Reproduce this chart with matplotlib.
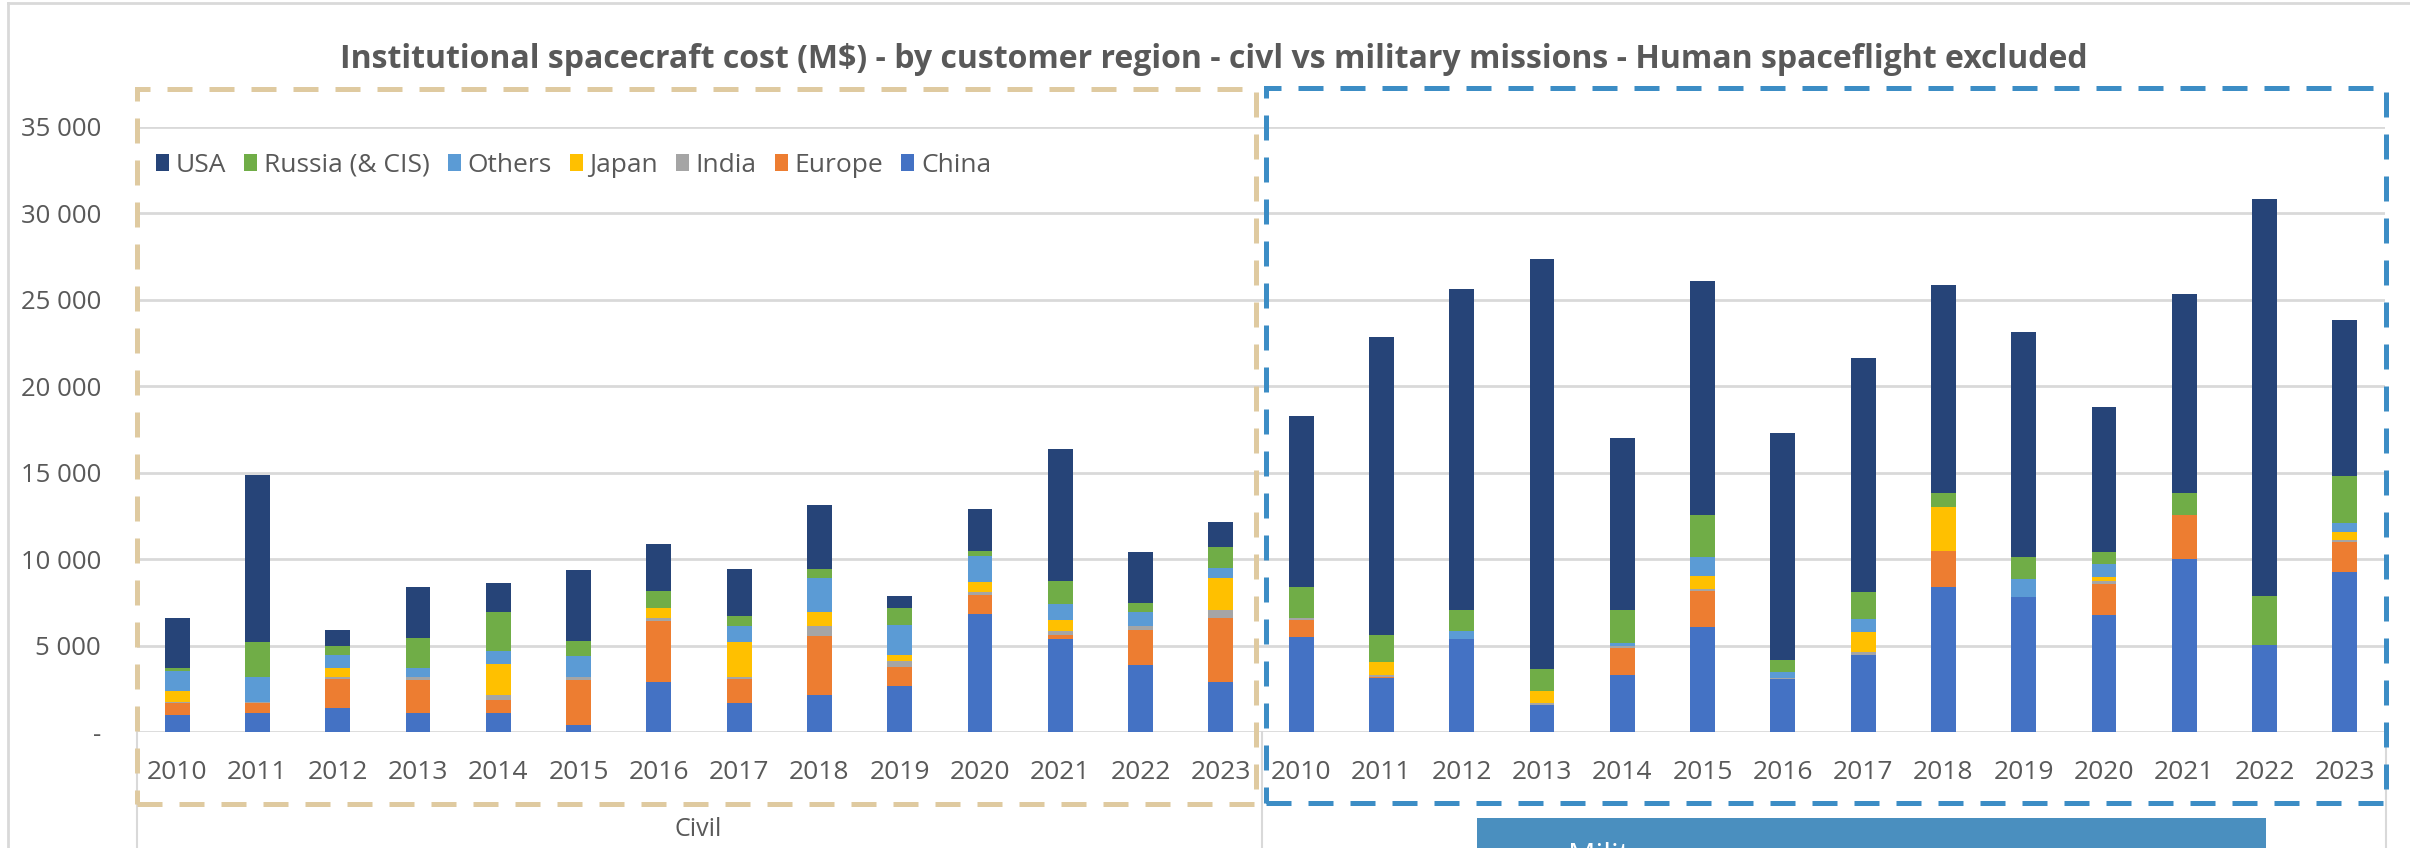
import matplotlib
matplotlib.use("Agg")
from matplotlib import pyplot as plt
from matplotlib.patches import Patch, Rectangle
from matplotlib.lines import Line2D
from matplotlib.ticker import FuncFormatter

plt.rcParams['font.family'] = ['Open Sans', 'DejaVu Sans']

years = [str(y) for y in range(2010, 2024)]
groups = ["Civil", "Military"]

# civil missions, M$ (bottom to top of each bar)
civ_china  = [970, 1100, 1360, 1110, 1110, 390, 2910, 1690, 2140, 2660, 6850, 5380, 3880, 2910]
civ_europe = [680, 550, 1690, 1900, 730, 2620, 3500, 1360, 3430, 1090, 1050, 250, 2040, 3690]
civ_india  = [60, 100, 120, 190, 300, 160, 190, 150, 550, 370, 200, 200, 200, 430]
civ_japan  = [690, 0, 520, 0, 1800, 0, 580, 1980, 830, 350, 580, 640, 0, 1900]
civ_others = [1150, 1450, 780, 530, 720, 1240, 0, 940, 1980, 1740, 1510, 910, 810, 530]
civ_russia = [140, 1980, 480, 1710, 2290, 830, 980, 580, 490, 970, 300, 1360, 550, 1220]
civ_usa    = [2930, 9710, 970, 2970, 1690, 4140, 2710, 2720, 3690, 680, 2420, 7630, 2910, 1460]

# military missions, M$
mil_china  = [5500, 3100, 5370, 1590, 3290, 6050, 3040, 4460, 8370, 7790, 6780, 10020, 5040, 9250]
mil_europe = [1000, 100, 0, 0, 1590, 2090, 0, 0, 2130, 0, 1790, 2520, 0, 1740]
mil_india  = [100, 90, 0, 100, 100, 140, 100, 190, 0, 0, 190, 0, 0, 100]
mil_japan  = [0, 760, 0, 680, 0, 770, 0, 1160, 2520, 0, 190, 0, 0, 480]
mil_others = [0, 0, 480, 0, 190, 1070, 350, 720, 0, 1070, 780, 0, 0, 520]
mil_russia = [1780, 1570, 1200, 1260, 1880, 2420, 660, 1550, 810, 1260, 680, 1290, 2850, 2720]
mil_usa    = [9920, 17210, 18550, 23710, 9980, 13540, 13140, 13550, 12020, 13000, 8390, 11520, 22940, 9050]

series = [
    ("China", civ_china, mil_china, "#4472C4"),
    ("Europe", civ_europe, mil_europe, "#ED7D31"),
    ("India", civ_india, mil_india, "#A5A5A5"),
    ("Japan", civ_japan, mil_japan, "#FFC000"),
    ("Others", civ_others, mil_others, "#5B9BD5"),
    ("Russia (& CIS)", civ_russia, mil_russia, "#70AD47"),
    ("USA", civ_usa, mil_usa, "#264478"),
]

W, H = 2410, 848
fig = plt.figure(figsize=(W / 100, H / 100), dpi=100)
ax = fig.add_axes([137 / W, (H - 732) / H, (2385 - 137) / W, (732 - 127) / H])

x = list(range(2 * len(years)))
bottom = [0] * len(x)
handles = []
for name, civ, mil, color in series:
    vals = civ + mil
    ax.bar(x, vals, 0.31, bottom=bottom, color=color, zorder=3)
    bottom = [b + v for b, v in zip(bottom, vals)]
    handles.append(Patch(facecolor=color, label=name))

ax.set_xlim(-0.5, len(x) - 0.5)
ax.set_ylim(0, 35000)
ax.set_yticks(range(0, 35001, 5000))
ax.yaxis.set_major_formatter(FuncFormatter(lambda v, p: "-" if v == 0 else "{:,.0f}".format(v).replace(",", " ")))
ax.grid(axis='y', color="#D9D9D9", linewidth=2, zorder=0)
ax.set_xticks(x)
ax.set_xticklabels(years + years)
ax.tick_params(axis='both', length=0, labelcolor="#595959")
ax.tick_params(axis='x', pad=20, labelsize=19)
ax.tick_params(axis='y', pad=26, labelsize=18.5)
for s in ax.spines.values():
    s.set_visible(False)

# legend, reversed order like the original
leg = ax.legend(handles=handles[::-1], loc='center left', bbox_to_anchor=(156 / W, 1 - 165 / H),
                bbox_transform=fig.transFigure, ncol=7, frameon=False, fontsize=19,
                handlelength=0.5, handleheight=0.6, handletextpad=0.25, columnspacing=0.68,
                borderaxespad=0, borderpad=0)
for t in leg.get_texts():
    t.set_color("#595959")

fig.text(1214 / W, 1 - 60 / H,
         "Institutional spacecraft cost (M$) - by customer region - civl vs military missions - Human spaceflight excluded",
         ha='center', va='center', fontsize=23, fontweight='bold', color="#595959")

# category group labels and separators
fig.text(698 / W, 1 - 830 / H, groups[0], ha='center', va='center', fontsize=18, color="#595959")
for px in [137, 1262, 2386]:
    fig.add_artist(Line2D([px / W, px / W], [0, (H - 732) / H], color="#D9D9D9", linewidth=1.5))

# outer chart border
fig.add_artist(Line2D([8 / W, 8 / W], [0, 1 - 3 / H], color="#D9D9D9", linewidth=2))
fig.add_artist(Line2D([8 / W, 1], [1 - 3 / H, 1 - 3 / H], color="#D9D9D9", linewidth=2))

# dashed highlight boxes
fig.add_artist(Rectangle((137 / W, 1 - 804 / H), (1256 - 137) / W, (804 - 89) / H, fill=False,
                         edgecolor="#DFCAA0", linewidth=3.6, linestyle=(0, (5, 3.4)), zorder=5))
fig.add_artist(Rectangle((1266 / W, 1 - 803 / H), (2386 - 1266) / W, (803 - 88) / H, fill=False,
                         edgecolor="#3C8DC5", linewidth=3.6, linestyle=(0, (5, 3.4)), zorder=5))

# blue label box at the bottom (cut by the image edge)
fig.add_artist(Rectangle((1477 / W, 0), (2266 - 1477) / W, (848 - 818) / H, facecolor="#4A8FBF",
                         edgecolor="none", zorder=6))
fig.text(1568 / W, 1 - 842 / H, groups[1], ha='left', va='top', fontsize=22, color="white", zorder=7)

fig.savefig("out.png", dpi=100)
